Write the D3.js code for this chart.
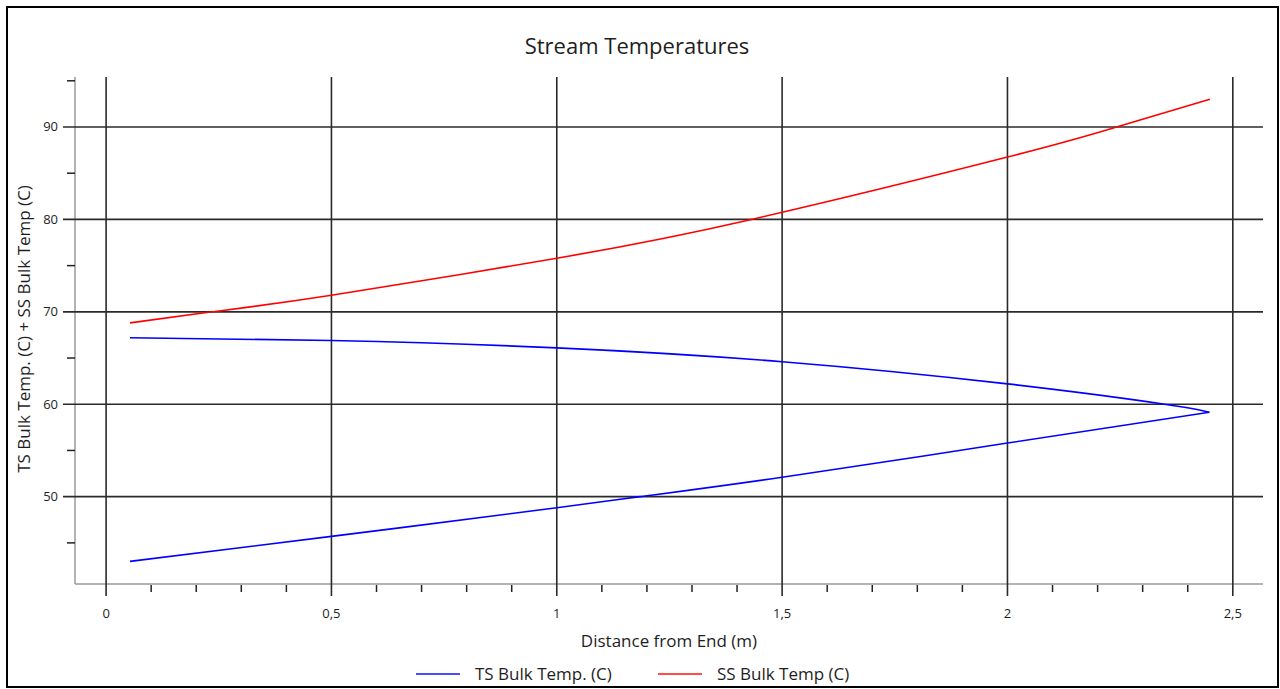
<!DOCTYPE html>
<html>
<head>
<meta charset="utf-8">
<script src="https://cdn.jsdelivr.net/npm/d3@7"></script>
<style>
  body { margin: 0; background: #fff; }
  svg text { font-family: "Open Sans", "Noto Sans", sans-serif; fill: #1e1e1e; }
</style>
</head>
<body>
<svg id="plot" width="1280" height="689"></svg>
<script>
// series: TS goes out along the top and comes back along the bottom
const tsOutX = [0.053, 0.5, 1.0, 1.5, 2.0, 2.349, 2.448];
const tsOutY = [67.2, 66.9, 66.1, 64.6, 62.2, 60.0, 59.13];
const tsBackX = [2.448, 2.0, 1.5, 1.185, 1.0, 0.5, 0.053];
const tsBackY = [59.13, 55.8, 52.1, 50.0, 48.8, 45.7, 43.0];

const ssX = [0.053, 0.235, 0.5, 1.0, 1.432, 2.0, 2.242, 2.449];
const ssY = [68.8, 70.0, 71.8, 75.8, 80.0, 86.75, 90.0, 93.0];

const xTicks = [0, 0.5, 1, 1.5, 2, 2.5];
const yTicks = [50, 60, 70, 80, 90];
const xMinor = [0.1, 0.2, 0.3, 0.4, 0.6, 0.7, 0.8, 0.9, 1.1, 1.2, 1.3, 1.4, 1.6, 1.7, 1.8, 1.9, 2.1, 2.2, 2.3, 2.4];
const yMinor = [45, 55, 65, 75, 85, 95];

const seriesNames = ['TS Bulk Temp. (C)', 'SS Bulk Temp (C)'];
const seriesColors = ['#0000ff', '#ff0000'];

const svg = d3.select('#plot');

const plotLeft = 75, plotRight = 1263, plotTop = 77, plotBottom = 584;

const x = d3.scaleLinear().domain([-0.069, 2.567]).range([plotLeft, plotRight]);
const y = d3.scaleLinear().domain([40.55, 95.41]).range([plotBottom, plotTop]);

const fmt = (v) => String(v).replace('.', ',');

// outer frame
svg.append('rect')
  .attr('x', 7).attr('y', 7)
  .attr('width', 1271).attr('height', 680)
  .attr('fill', 'none')
  .attr('stroke', '#000')
  .attr('stroke-width', 2);

svg.append('text')
  .attr('x', 637).attr('y', 54)
  .attr('text-anchor', 'middle')
  .style('font-size', '22px')
  .text('Stream Temperatures');

// axis lines (light)
svg.append('line')
  .attr('x1', plotLeft).attr('x2', plotLeft)
  .attr('y1', plotTop).attr('y2', plotBottom)
  .attr('stroke', '#9a9a9a').attr('stroke-width', 1.5);
svg.append('line')
  .attr('x1', plotLeft).attr('x2', plotRight)
  .attr('y1', plotBottom).attr('y2', plotBottom)
  .attr('stroke', '#9a9a9a').attr('stroke-width', 1.5);

// grid lines, they run past the axes as the major ticks
const grid = svg.append('g').attr('stroke', '#2a2a2a').attr('stroke-width', 1.6);
grid.selectAll('.vg').data(xTicks).enter().append('line')
  .attr('x1', (d) => x(d)).attr('x2', (d) => x(d))
  .attr('y1', plotTop).attr('y2', plotBottom + 12);
grid.selectAll('.hg').data(yTicks).enter().append('line')
  .attr('x1', plotLeft - 12).attr('x2', plotRight)
  .attr('y1', (d) => y(d)).attr('y2', (d) => y(d));

// minor ticks
svg.append('g').attr('stroke', '#222').attr('stroke-width', 1.5)
  .selectAll('line').data(xMinor).enter().append('line')
  .attr('x1', (d) => x(d)).attr('x2', (d) => x(d))
  .attr('y1', plotBottom + 1).attr('y2', plotBottom + 8);
svg.append('g').attr('stroke', '#222').attr('stroke-width', 1.5)
  .selectAll('line').data(yMinor).enter().append('line')
  .attr('x1', plotLeft - 8).attr('x2', plotLeft)
  .attr('y1', (d) => y(d)).attr('y2', (d) => y(d));

// tick labels
svg.append('g').selectAll('text').data(xTicks).enter().append('text')
  .attr('x', (d) => x(d)).attr('y', 618)
  .attr('text-anchor', 'middle')
  .style('font-size', '13px')
  .text(fmt);
svg.append('g').selectAll('text').data(yTicks).enter().append('text')
  .attr('x', 58).attr('y', (d) => y(d) + 4.5)
  .attr('text-anchor', 'end')
  .style('font-size', '13px')
  .text(fmt);

// axis titles
svg.append('text')
  .attr('x', 669).attr('y', 647)
  .attr('text-anchor', 'middle')
  .style('font-size', '17px')
  .text('Distance from End (m)');
svg.append('text')
  .attr('transform', 'translate(30, 329) rotate(-90)')
  .attr('text-anchor', 'middle')
  .style('font-size', '17px')
  .text('TS Bulk Temp. (C) + SS Bulk Temp (C)');

// lines
const line = d3.line()
  .x((d) => x(d[0]))
  .y((d) => y(d[1]))
  .curve(d3.curveNatural);

const tsOut = tsOutX.map((v, i) => [v, tsOutY[i]]);
const tsBack = tsBackX.map((v, i) => [v, tsBackY[i]]);
const ss = ssX.map((v, i) => [v, ssY[i]]);

[tsOut, tsBack].forEach((branch) => {
  svg.append('path')
    .datum(branch)
    .attr('d', line)
    .attr('fill', 'none')
    .attr('stroke', seriesColors[0])
    .attr('stroke-width', 1.6);
});
svg.append('path')
  .datum(ss)
  .attr('d', line)
  .attr('fill', 'none')
  .attr('stroke', seriesColors[1])
  .attr('stroke-width', 1.6);

// legend
const legendX = [416, 658];
const legend = svg.append('g').selectAll('g').data(seriesNames).enter().append('g')
  .attr('transform', (d, i) => `translate(${legendX[i]}, 674)`);
legend.append('line')
  .attr('x1', 0).attr('x2', 44)
  .attr('stroke', (d, i) => seriesColors[i])
  .attr('stroke-opacity', 0.7)
  .attr('stroke-width', 2);
legend.append('text')
  .attr('x', 59).attr('y', 6)
  .style('font-size', '17px')
  .text((d) => d);
</script>
</body>
</html>
